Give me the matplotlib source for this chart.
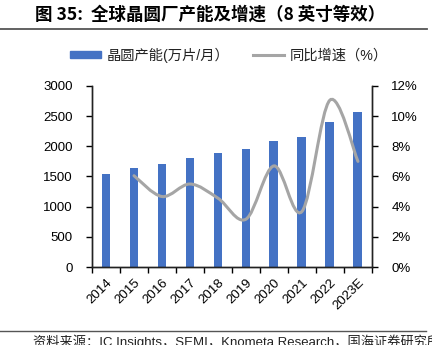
import numpy as np
import matplotlib.pyplot as plt
from matplotlib.path import Path
from matplotlib.patches import PathPatch
from matplotlib.lines import Line2D
from matplotlib.patches import Patch

plt.rcParams['font.family'] = ['Liberation Sans', 'Noto Sans CJK SC', 'DejaVu Sans']

# data
years = ['2014', '2015', '2016', '2017', '2018', '2019', '2020', '2021', '2022', '2023E']
capacity = [1540, 1635, 1705, 1805, 1888, 1950, 2080, 2158, 2395, 2566]
growth_years = years[1:]
growth = [6.05, 4.67, 5.5, 4.56, 3.17, 6.7, 3.68, 11.06, 7.0]

bar_color = '#4472C4'
line_color = '#A5A5A5'

fig = plt.figure(figsize=(4.32, 3.45), dpi=100)
ax = fig.add_axes([0.213, 0.226, 0.648, 0.525])
ax2 = ax.twinx()

x = np.arange(len(years))
ax.bar(x, capacity, width=0.32, color=bar_color, zorder=2)
ax.set_xlim(-0.5, len(years) - 0.5)
ax.set_ylim(0, 3000)
ax.set_yticks(np.arange(0, 3001, 500))
ax.set_xticks(x)
ax.set_xticklabels(years, rotation=45, ha='right', rotation_mode='anchor', fontsize=9.5)
ax.set_xticks(np.arange(-0.5, len(years), 1), minor=True)
ax.tick_params(axis='x', which='major', length=0, pad=7)
ax.tick_params(axis='x', which='minor', length=4, width=1, direction='out')
ax.tick_params(axis='y', length=4, width=1, direction='out', labelsize=9.5, pad=10)

# smoothed growth line (Excel style)
gx = np.array([years.index(y) for y in growth_years], dtype=float)
gy = np.array(growth)
pts = np.column_stack([gx, gy])
ext = np.vstack([pts[0], pts, pts[-1]])
verts = [pts[0]]
codes = [Path.MOVETO]
for i in range(len(pts) - 1):
    p0, p1, p2, p3 = ext[i], ext[i + 1], ext[i + 2], ext[i + 3]
    verts += [p1 + (p2 - p0) / 6, p2 - (p3 - p1) / 6, p2]
    codes += [Path.CURVE4] * 3
ax2.add_patch(PathPatch(Path(verts, codes), facecolor='none', edgecolor=line_color,
                        lw=2.2, capstyle='round', zorder=3))
ax2.set_ylim(0, 12)
ax2.set_yticks(np.arange(0, 13, 2))
ax2.set_yticklabels(['%d%%' % v for v in range(0, 13, 2)])
ax2.tick_params(axis='y', length=4, width=1, direction='out', labelsize=9.5, pad=10)

for a in (ax, ax2):
    a.spines['top'].set_visible(False)
    for s in ('left', 'right', 'bottom'):
        a.spines[s].set_color('#222222')
        a.spines[s].set_linewidth(1)

handles = [Patch(color=bar_color), Line2D([], [], color=line_color, lw=2.2)]
labels = ['晶圆产能(万片/月）', '同比增速（%）']
leg = fig.legend(handles, labels, loc='center', bbox_to_anchor=(0.53, 0.84), ncol=2,
                 frameon=False, fontsize=10.3, handlelength=2.2, handleheight=0.4,
                 columnspacing=1.6, handletextpad=0.4)
for t in leg.get_texts():
    t.set_color('#222222')

fig.text(0.08, 0.957, '图 35:  全球晶圆厂产能及增速（8 英寸等效）', fontsize=12.6,
         fontweight='bold', va='center', family=['Noto Sans CJK SC', 'DejaVu Sans'])
fig.add_artist(Line2D([0, 0.988], [0.916, 0.916], color='#555555', lw=1.3))
fig.add_artist(Line2D([0, 0.985], [0.041, 0.041], color='#555555', lw=1.0))
fig.text(0.077, 0.008, '资料来源：IC Insights，SEMI，Knometa Research，国海证券研究所',
         fontsize=9.5, va='center', color='#222222')

fig.savefig('out.png', dpi=100)
